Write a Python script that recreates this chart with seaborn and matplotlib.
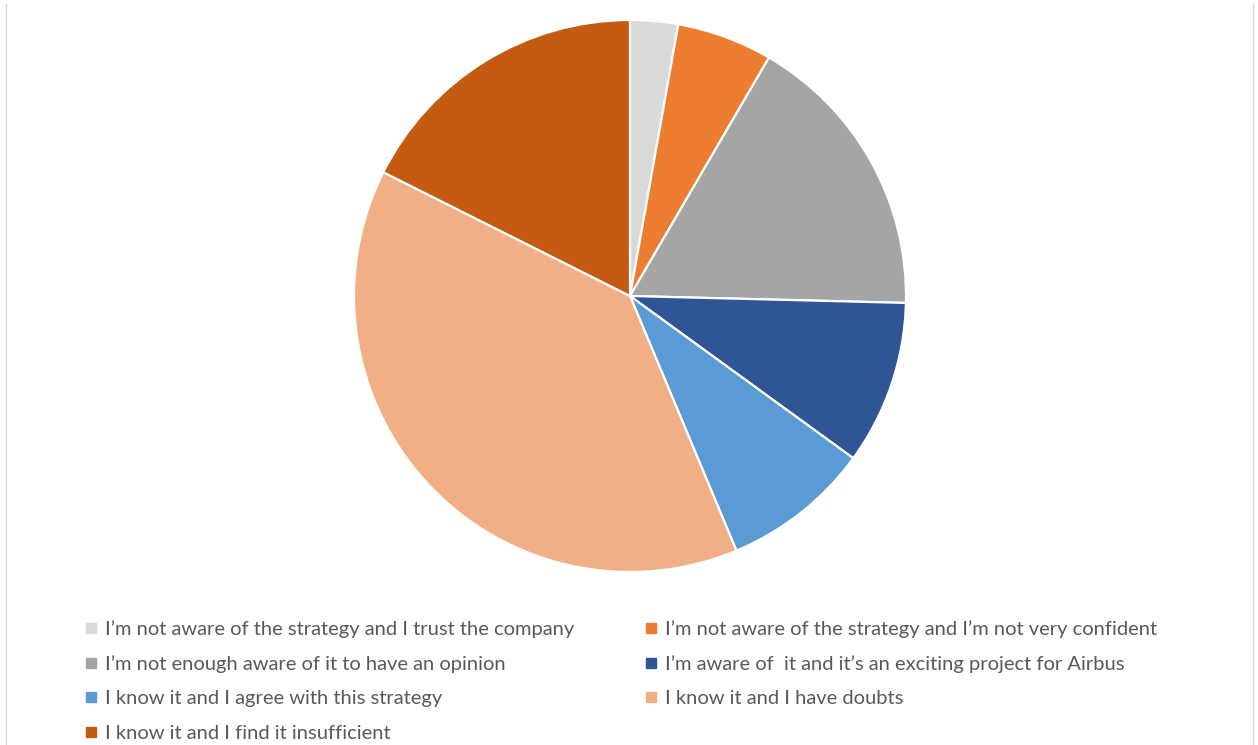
import matplotlib
matplotlib.use("Agg")
import matplotlib.pyplot as plt
import seaborn as sns
from matplotlib.lines import Line2D

labels = [
    "I\u2019m not aware of the strategy and I trust the company",
    "I\u2019m not aware of the strategy and I\u2019m not very confident",
    "I\u2019m not enough aware of it to have an opinion",
    "I\u2019m aware of  it and it\u2019s an exciting project for Airbus",
    "I know it and I agree with this strategy",
    "I know it and I have doubts",
    "I know it and I find it insufficient",
]
# shares in percent
values = [2.8, 5.6, 17.0, 9.6, 8.7, 38.7, 17.6]
colors = ["#D9D9D9", "#ED7D31", "#A5A5A5", "#2F5597", "#5B9BD5", "#F0AF84", "#C55A11"]

sns.set_theme(style="white")
plt.rcParams["font.family"] = ["Lato", "DejaVu Sans"]

W, H = 1258, 745
fig = plt.figure(figsize=(W / 100, H / 100), dpi=100)
fig.patch.set_facecolor("white")

# pie area: center (630, 296), radius 276 px
cx, cy, r = 630, 296, 276
ax = fig.add_axes([(cx - r) / W, (H - cy - r) / H, 2 * r / W, 2 * r / H])
ax.pie(values, colors=colors, startangle=90, counterclock=False, radius=1,
       wedgeprops=dict(edgecolor="white", linewidth=1.6))
ax.set_xlim(-1, 1)
ax.set_ylim(-1, 1)
ax.set_aspect("equal")
ax.axis("off")

# chart border lines left and right
fig.add_artist(Line2D([6.5 / W, 6.5 / W], [0, 1 - 4 / H], transform=fig.transFigure, color="#D9D9D9", lw=1))
fig.add_artist(Line2D([1252.5 / W, 1252.5 / W], [0, 1 - 4 / H], transform=fig.transFigure, color="#D9D9D9", lw=1))

def handles(idx):
    return [Line2D([0], [0], marker="s", linestyle="none", markersize=7,
                   markerfacecolor=colors[i], markeredgecolor=colors[i]) for i in idx]

col1 = [0, 2, 4, 6]
col2 = [1, 3, 5]
for idx, x in [(col1, 85), (col2, 645)]:
    leg = fig.legend(handles(idx), [labels[i] for i in idx], loc="upper left",
                     bbox_to_anchor=(x / W, 1 - 620 / H), frameon=False,
                     fontsize=14.5, handlelength=0.55, handletextpad=0.45,
                     labelspacing=0.86, borderaxespad=0, borderpad=0,
                     labelcolor="#595959")

fig.savefig("out.png", dpi=100, facecolor="white")
